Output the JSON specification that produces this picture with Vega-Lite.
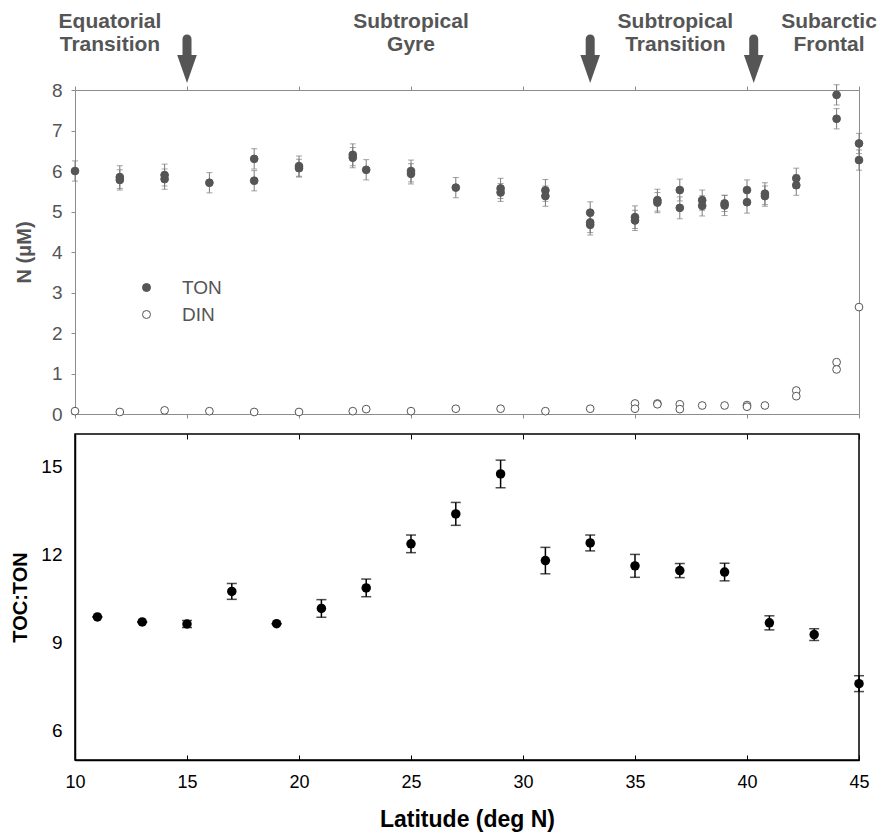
{
  "$schema": "https://vega.github.io/schema/vega-lite/v6.json",
  "padding": {"left": 10, "top": 10, "right": 2, "bottom": 5},
  "background": "white",
  "spacing": 7,
  "config": {
    "font": "Liberation Sans",
    "axis": {"grid": false, "labelFont": "Liberation Sans", "titleFont": "Liberation Sans"},
    "legend": {"labelFont": "Liberation Sans"}
  },
  "datasets": {
    "nut": [
      {"lat": 10, "value": 6.00, "err": 0.25, "series": "TON"},
      {"lat": 12, "value": 5.85, "err": 0.28, "series": "TON"},
      {"lat": 12, "value": 5.78, "err": 0.25, "series": "TON"},
      {"lat": 14, "value": 5.90, "err": 0.27, "series": "TON"},
      {"lat": 14, "value": 5.80, "err": 0.25, "series": "TON"},
      {"lat": 16, "value": 5.71, "err": 0.25, "series": "TON"},
      {"lat": 18, "value": 6.30, "err": 0.25, "series": "TON"},
      {"lat": 18, "value": 5.76, "err": 0.25, "series": "TON"},
      {"lat": 20, "value": 6.12, "err": 0.25, "series": "TON"},
      {"lat": 20, "value": 6.07, "err": 0.22, "series": "TON"},
      {"lat": 22.4, "value": 6.40, "err": 0.27, "series": "TON"},
      {"lat": 22.4, "value": 6.33, "err": 0.25, "series": "TON"},
      {"lat": 23, "value": 6.03, "err": 0.25, "series": "TON"},
      {"lat": 25, "value": 6.00, "err": 0.27, "series": "TON"},
      {"lat": 25, "value": 5.93, "err": 0.25, "series": "TON"},
      {"lat": 27, "value": 5.59, "err": 0.25, "series": "TON"},
      {"lat": 29, "value": 5.57, "err": 0.25, "series": "TON"},
      {"lat": 29, "value": 5.47, "err": 0.22, "series": "TON"},
      {"lat": 31, "value": 5.52, "err": 0.27, "series": "TON"},
      {"lat": 31, "value": 5.38, "err": 0.25, "series": "TON"},
      {"lat": 33, "value": 4.97, "err": 0.27, "series": "TON"},
      {"lat": 33, "value": 4.73, "err": 0.25, "series": "TON"},
      {"lat": 33, "value": 4.67, "err": 0.25, "series": "TON"},
      {"lat": 35, "value": 4.86, "err": 0.28, "series": "TON"},
      {"lat": 35, "value": 4.78, "err": 0.25, "series": "TON"},
      {"lat": 36, "value": 5.28, "err": 0.27, "series": "TON"},
      {"lat": 36, "value": 5.22, "err": 0.25, "series": "TON"},
      {"lat": 37, "value": 5.53, "err": 0.27, "series": "TON"},
      {"lat": 37, "value": 5.09, "err": 0.27, "series": "TON"},
      {"lat": 38, "value": 5.28, "err": 0.25, "series": "TON"},
      {"lat": 38, "value": 5.14, "err": 0.25, "series": "TON"},
      {"lat": 39, "value": 5.20, "err": 0.20, "series": "TON"},
      {"lat": 39, "value": 5.15, "err": 0.25, "series": "TON"},
      {"lat": 40, "value": 5.53, "err": 0.25, "series": "TON"},
      {"lat": 40, "value": 5.23, "err": 0.27, "series": "TON"},
      {"lat": 40.8, "value": 5.44, "err": 0.27, "series": "TON"},
      {"lat": 40.8, "value": 5.38, "err": 0.25, "series": "TON"},
      {"lat": 42.2, "value": 5.82, "err": 0.25, "series": "TON"},
      {"lat": 42.2, "value": 5.65, "err": 0.25, "series": "TON"},
      {"lat": 44, "value": 7.88, "err": 0.25, "series": "TON"},
      {"lat": 44, "value": 7.29, "err": 0.25, "series": "TON"},
      {"lat": 45, "value": 6.68, "err": 0.25, "series": "TON"},
      {"lat": 45, "value": 6.27, "err": 0.25, "series": "TON"},
      {"lat": 10, "value": 0.07, "series": "DIN"},
      {"lat": 12, "value": 0.05, "series": "DIN"},
      {"lat": 14, "value": 0.09, "series": "DIN"},
      {"lat": 16, "value": 0.07, "series": "DIN"},
      {"lat": 18, "value": 0.05, "series": "DIN"},
      {"lat": 20, "value": 0.05, "series": "DIN"},
      {"lat": 22.4, "value": 0.07, "series": "DIN"},
      {"lat": 23, "value": 0.12, "series": "DIN"},
      {"lat": 25, "value": 0.07, "series": "DIN"},
      {"lat": 27, "value": 0.13, "series": "DIN"},
      {"lat": 29, "value": 0.13, "series": "DIN"},
      {"lat": 31, "value": 0.07, "series": "DIN"},
      {"lat": 33, "value": 0.13, "series": "DIN"},
      {"lat": 35, "value": 0.26, "series": "DIN"},
      {"lat": 35, "value": 0.13, "series": "DIN"},
      {"lat": 36, "value": 0.26, "series": "DIN"},
      {"lat": 36, "value": 0.24, "series": "DIN"},
      {"lat": 37, "value": 0.24, "series": "DIN"},
      {"lat": 37, "value": 0.12, "series": "DIN"},
      {"lat": 38, "value": 0.21, "series": "DIN"},
      {"lat": 39, "value": 0.21, "series": "DIN"},
      {"lat": 40, "value": 0.22, "series": "DIN"},
      {"lat": 40, "value": 0.18, "series": "DIN"},
      {"lat": 40.8, "value": 0.21, "series": "DIN"},
      {"lat": 42.2, "value": 0.58, "series": "DIN"},
      {"lat": 42.2, "value": 0.44, "series": "DIN"},
      {"lat": 44, "value": 1.28, "series": "DIN"},
      {"lat": 44, "value": 1.10, "series": "DIN"},
      {"lat": 45, "value": 2.64, "series": "DIN"}
    ],
    "ratio": [
      {"lat": 11, "value": 9.87, "err": 0},
      {"lat": 13, "value": 9.70, "err": 0},
      {"lat": 15, "value": 9.63, "err": 0.12},
      {"lat": 17, "value": 10.74, "err": 0.27},
      {"lat": 19, "value": 9.64, "err": 0},
      {"lat": 21, "value": 10.16, "err": 0.30},
      {"lat": 23, "value": 10.86, "err": 0.30},
      {"lat": 25, "value": 12.36, "err": 0.30},
      {"lat": 27, "value": 13.38, "err": 0.39},
      {"lat": 29, "value": 14.74, "err": 0.47},
      {"lat": 31, "value": 11.79, "err": 0.45},
      {"lat": 33, "value": 12.39, "err": 0.27},
      {"lat": 35, "value": 11.61, "err": 0.39},
      {"lat": 37, "value": 11.45, "err": 0.24},
      {"lat": 39, "value": 11.40, "err": 0.30},
      {"lat": 41, "value": 9.67, "err": 0.24},
      {"lat": 43, "value": 9.27, "err": 0.20},
      {"lat": 45, "value": 7.60, "err": 0.27}
    ],
    "zones": [
      {"lat": 11.56, "zone": "Equatorial\nTransition"},
      {"lat": 25.0, "zone": "Subtropical\nGyre"},
      {"lat": 36.8, "zone": "Subtropical\nTransition"},
      {"lat": 43.66, "zone": "Subarctic\nFrontal"}
    ],
    "boundaries": [
      {"lat": 15},
      {"lat": 33},
      {"lat": 40.3}
    ]
  },
  "vconcat": [
    {
      "width": 784,
      "height": 324,
      "view": {"stroke": "#8c8c8c", "strokeWidth": 1},
      "resolve": {"axis": {"x": "independent"}},
      "layer": [
        {
          "data": {"name": "nut"},
          "transform": [{"filter": "datum.series === 'TON'"}],
          "mark": {"type": "errorbar", "color": "#7a7a7a", "thickness": 1, "ticks": {"size": 6, "color": "#7a7a7a"}},
          "encoding": {
            "x": {"field": "lat", "type": "quantitative", "scale": {"domain": [10, 45], "nice": false, "zero": false},
                  "axis": {"orient": "bottom", "labels": false, "title": null, "values": [10, 15, 20, 25, 30, 35, 40, 45], "tickSize": 4, "tickColor": "#8c8c8c", "domainColor": "#8c8c8c"}},
            "y": {"field": "value", "type": "quantitative", "scale": {"domain": [0, 8], "nice": false},
                  "axis": {"title": "N (μM)", "values": [0, 1, 2, 3, 4, 5, 6, 7, 8], "tickSize": 4, "tickColor": "#8c8c8c", "domainColor": "#8c8c8c", "labelFontSize": 19, "labelColor": "#555555", "labelPadding": 9, "titleFontSize": 20, "titleFontWeight": "bold", "titleColor": "#555555", "titlePadding": 17}},
            "yError": {"field": "err"}
          }
        },
        {
          "data": {"name": "nut"},
          "mark": {"type": "point", "filled": true, "stroke": "#555555", "strokeWidth": 1, "size": 60, "opacity": 1},
          "encoding": {
            "x": {"field": "lat", "type": "quantitative", "axis": null},
            "y": {"field": "value", "type": "quantitative"},
            "fill": {"field": "series", "type": "nominal",
                     "scale": {"domain": ["TON", "DIN"], "range": ["#555555", "#ffffff"]},
                     "legend": {"orient": "none", "legendX": 62, "legendY": 188, "title": null, "labelFontSize": 19, "labelColor": "#555555", "symbolSize": 64, "symbolType": "circle", "symbolStrokeColor": "#555555", "symbolStrokeWidth": 1, "labelOffset": 26, "rowPadding": 7, "padding": 0}}
          }
        },
        {
          "data": {"name": "zones"},
          "mark": {"type": "text", "align": "center", "baseline": "middle", "lineBreak": "\n", "lineHeight": 23, "fontSize": 21, "fontWeight": "bold", "color": "#555555"},
          "encoding": {
            "x": {"field": "lat", "type": "quantitative", "axis": null},
            "y": {"datum": 9.68},
            "text": {"field": "zone"}
          }
        },
        {
          "data": {"name": "boundaries"},
          "mark": {"type": "rule", "strokeWidth": 9, "strokeCap": "round", "color": "#555555"},
          "encoding": {
            "x": {"field": "lat", "type": "quantitative",
                  "axis": {"orient": "top", "labels": false, "title": null, "values": [10, 15, 20, 25, 30, 35, 40, 45], "tickSize": 4, "tickColor": "#8c8c8c", "domain": false}},
            "y": {"datum": 9.26},
            "y2": {"datum": 8.72}
          }
        },
        {
          "data": {"name": "boundaries"},
          "mark": {"type": "point", "shape": "M-0.7,-1L0.7,-1L0,1Z", "filled": true, "size": 784, "color": "#555555", "opacity": 1},
          "encoding": {
            "x": {"field": "lat", "type": "quantitative", "axis": null},
            "y": {"datum": 8.52}
          }
        }
      ]
    },
    {
      "width": 784,
      "height": 326,
      "view": {"stroke": "#000000", "strokeWidth": 1.5},
      "resolve": {"axis": {"x": "independent"}},
      "layer": [
        {
          "data": {"name": "ratio"},
          "mark": {"type": "errorbar", "color": "#000000", "thickness": 1.5, "ticks": {"size": 10, "color": "#000000", "thickness": 1.5}},
          "encoding": {
            "x": {"field": "lat", "type": "quantitative", "scale": {"domain": [10, 45], "nice": false, "zero": false},
                  "axis": {"orient": "top", "labels": false, "title": null, "values": [10, 15, 20, 25, 30, 35, 40, 45], "tickSize": -5, "tickColor": "#000000", "domain": false}},
            "y": {"field": "value", "type": "quantitative", "scale": {"domain": [5, 16.1], "nice": false, "zero": false},
                  "axis": {"title": "TOC:TON", "values": [6, 9, 12, 15], "ticks": false, "domainColor": "#000000", "domainWidth": 1.5, "labelFontSize": 19, "labelColor": "#000000", "labelPadding": 13, "titleFontSize": 20, "titleFontWeight": "bold", "titleColor": "#000000", "titlePadding": 10}},
            "yError": {"field": "err"}
          }
        },
        {
          "data": {"name": "ratio"},
          "mark": {"type": "point", "filled": true, "size": 90, "color": "#000000", "opacity": 1},
          "encoding": {
            "x": {"field": "lat", "type": "quantitative",
                  "axis": {"orient": "bottom", "title": "Latitude (deg N)", "values": [10, 15, 20, 25, 30, 35, 40, 45], "labelFlush": false, "tickSize": -5, "tickColor": "#000000", "domainColor": "#000000", "domainWidth": 1.5, "labelFontSize": 18, "labelColor": "#000000", "labelPadding": 18, "titleFontSize": 23, "titleFontWeight": "bold", "titleColor": "#000000", "titlePadding": 17}},
            "y": {"field": "value", "type": "quantitative"}
          }
        }
      ]
    }
  ]
}
